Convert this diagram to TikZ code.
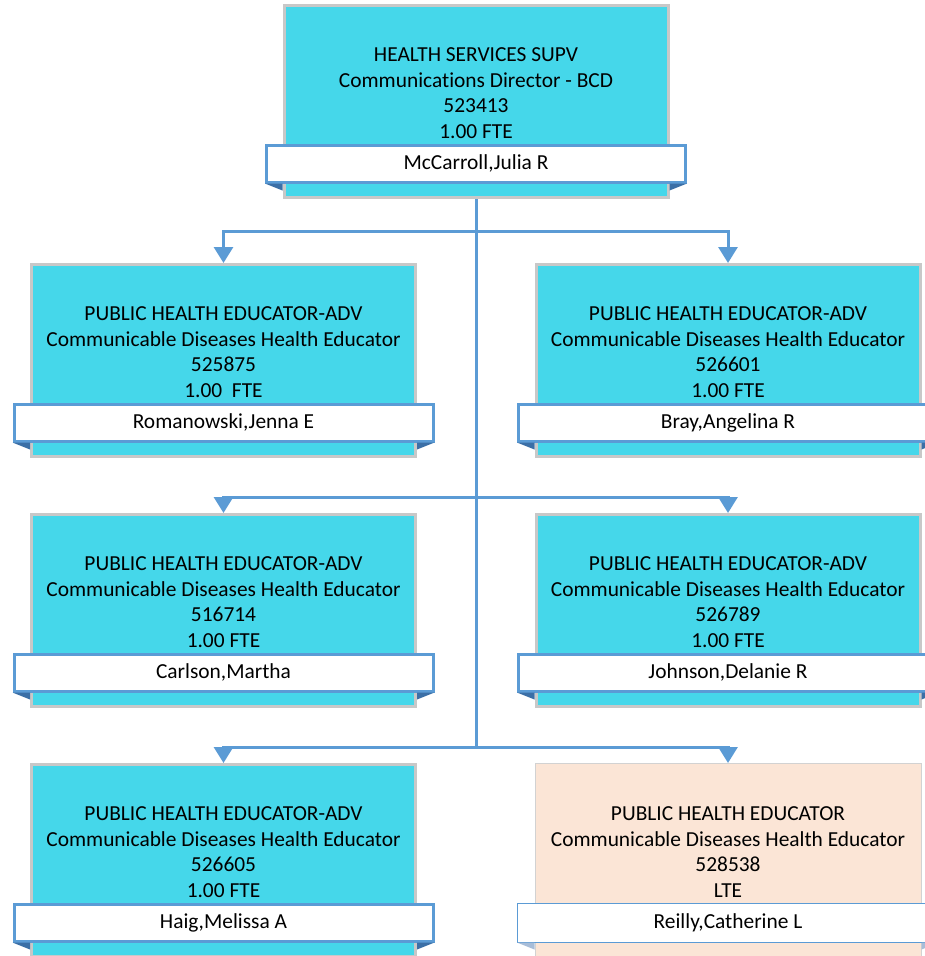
\documentclass[tikz,border=0pt]{standalone}
\usepackage{fontspec}
\setmainfont{Carlito}[Ligatures=NoCommon]
\usetikzlibrary{arrows.meta}
\definecolor{boxcyan}{HTML}{45D7EA}
\definecolor{boxgray}{HTML}{C8C8C8}
\definecolor{barblue}{HTML}{5B9BD5}
\definecolor{folddark}{HTML}{3B6FA6}
\definecolor{boxpeach}{HTML}{FBE5D6}
\definecolor{peachgray}{HTML}{D2D2D2}
\definecolor{foldpale}{HTML}{A8BDD8}

\tikzset{
  advbox/.style={draw=boxgray,line width=3pt,fill=boxcyan,minimum width=384pt,minimum height=192pt,inner sep=0pt},
  ltebox/.style={draw=peachgray,line width=1pt,fill=boxpeach,minimum width=386pt,minimum height=194pt,inner sep=0pt},
  advbar/.style={draw=barblue,line width=3pt,fill=white,minimum width=419pt,minimum height=37pt,inner sep=0pt,font=\fontsize{21.4}{24}\selectfont},
  ltebar/.style={draw=barblue,line width=1pt,fill=white,minimum width=421pt,minimum height=39pt,inner sep=0pt,font=\fontsize{21.4}{24}\selectfont},
  advfold/.style={fill=folddark},
  ltefold/.style={fill=foldpale},
  postext/.style={align=center,inner sep=0pt,font=\fontsize{21.4}{25.7}\selectfont},
  conn/.style={draw=barblue,line width=3pt},
  connarrow/.style={conn,-{Triangle[width=19pt,length=16pt]}}
}

% #1 name, #2 centre x, #3 top y, #4-#7 text lines, #8 person, #9 kind
\newcommand{\posbox}[9]{
  \node[#9box] (#1) at (#2,#3+97.5) {};
  \node[postext] (#1t) at (#2,#3+89) {#4\\#5\\#6\\#7};
  \node[#9bar] (#1n) at (#2,#3+159.5) {#8};
  \fill[#9fold] (#1n.south west) -- ++(17.5,0) -- ++(0,7) -- cycle;
  \fill[#9fold] (#1n.south east) -- ++(-17.5,0) -- ++(0,7) -- cycle;
}

\begin{document}
\begin{tikzpicture}[x=1pt,y=-1pt]
  \useasboundingbox (0,0) rectangle (924,956);

  \posbox{sup}{476}{4}{HEALTH SERVICES SUPV}{Communications Director - BCD}{523413}{1.00 FTE}{McCarroll,Julia R}{adv}
  \posbox{pa}{223.5}{263}{PUBLIC HEALTH EDUCATOR-ADV}{Communicable Diseases Health Educator}{525875}{1.00\ \ FTE}{Romanowski,Jenna E}{adv}
  \posbox{pb}{728}{263}{PUBLIC HEALTH EDUCATOR-ADV}{Communicable Diseases Health Educator}{526601}{1.00 FTE}{Bray,Angelina R}{adv}
  \posbox{pc}{223.5}{513}{PUBLIC HEALTH EDUCATOR-ADV}{Communicable Diseases Health Educator}{516714}{1.00 FTE}{Carlson,Martha}{adv}
  \posbox{pd}{728}{513}{PUBLIC HEALTH EDUCATOR-ADV}{Communicable Diseases Health Educator}{526789}{1.00 FTE}{Johnson,Delanie R}{adv}
  \posbox{pe}{223.5}{763}{PUBLIC HEALTH EDUCATOR-ADV}{Communicable Diseases Health Educator}{526605}{1.00 FTE}{Haig,Melissa A}{adv}
  \posbox{pf}{728}{763}{PUBLIC HEALTH EDUCATOR}{Communicable Diseases Health Educator}{528538}{LTE}{Reilly,Catherine L}{lte}

  % reporting lines
  \coordinate (j1) at (476,231);
  \coordinate (j2) at (476,497);
  \coordinate (j3) at (476,747);
  \draw[conn] (sup.south) -- (j3);
  \draw[connarrow] (j1) -| (pa.north);
  \draw[connarrow] (j1) -| (pb.north);
  \draw[connarrow] (j2) -| (pc.north);
  \draw[connarrow] (j2) -| (pd.north);
  \draw[connarrow] (j3) -| (pe.north);
  \draw[connarrow] (j3) -| (pf.north);
\end{tikzpicture}
\end{document}
